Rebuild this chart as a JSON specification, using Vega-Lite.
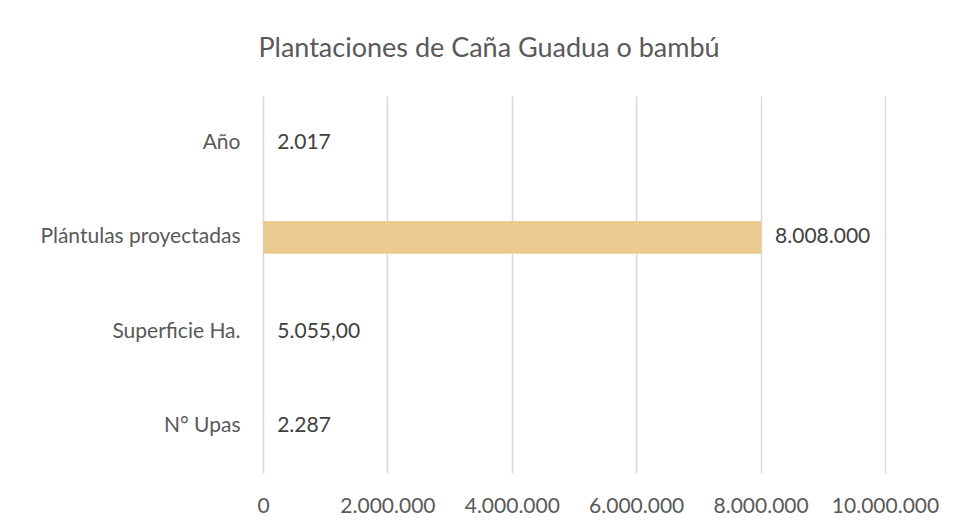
{
  "$schema": "https://vega.github.io/schema/vega-lite/v6.json",
  "width": 622,
  "height": 377,
  "autosize": {"type": "none"},
  "padding": {"left": 263, "top": 96, "right": 70, "bottom": 59},
  "background": "white",
  "title": {
    "text": "Plantaciones de Caña Guadua o bambú",
    "fontSize": 27,
    "font": "Lato",
    "fontWeight": "normal",
    "color": "#595959",
    "anchor": "middle",
    "baseline": "alphabetic",
    "dx": -85,
    "offset": 12
  },
  "data": {
    "values": [
      {"cat": "Año", "value": 2017, "label": "2.017"},
      {"cat": "Plántulas proyectadas", "value": 8008000, "label": "8.008.000"},
      {"cat": "Superficie Ha.", "value": 5055, "label": "5.055,00"},
      {"cat": "N° Upas", "value": 2287, "label": "2.287"}
    ]
  },
  "encoding": {
    "y": {
      "field": "cat",
      "type": "nominal",
      "sort": null,
      "title": null,
      "scale": {"paddingInner": 0.65, "paddingOuter": 0.325},
      "axis": {"domain": false, "ticks": false, "labelPadding": 23, "labelFontSize": 21, "labelLimit": 400, "labelColor": "#595959", "labelFont": "Lato", "grid": false}
    },
    "x": {
      "field": "value",
      "type": "quantitative",
      "title": null,
      "scale": {"domain": [0, 10000000], "nice": false},
      "axis": {"values": [0, 2000000, 4000000, 6000000, 8000000, 10000000], "format": ",d", "domain": false, "ticks": false, "grid": true, "gridColor": "#d9d9d9", "gridWidth": 1.5, "labelPadding": 22, "labelFontSize": 21, "labelColor": "#595959", "labelFont": "Lato", "labelOverlap": false, "labelFlush": false, "labelBound": false}
    }
  },
  "layer": [
    {"mark": {"type": "bar", "color": "#EBCB8F"}},
    {"mark": {"type": "text", "align": "left", "dx": 14, "fontSize": 21, "font": "Lato", "color": "#404040"}, "encoding": {"text": {"field": "label"}}}
  ],
  "config": {
    "view": {"stroke": null},
    "locale": {"number": {"decimal": ",", "thousands": ".", "grouping": [3], "currency": ["", ""]}}
  }
}
